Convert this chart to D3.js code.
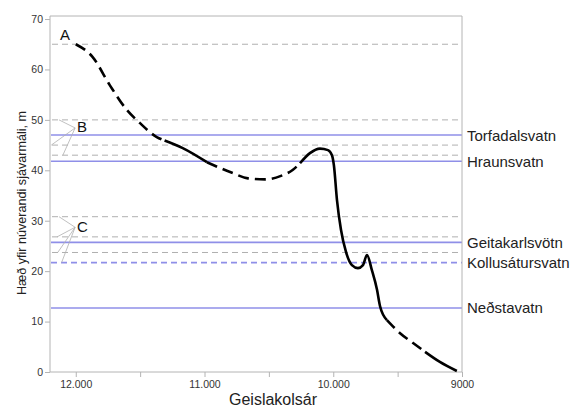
<!DOCTYPE html>
<meta charset="UTF-8">
<svg width="581" height="408"></svg>
<style>
body { margin: 0; }
svg { font-family: "Liberation Sans", Arial, sans-serif; }
.frame { stroke: #b4b4b4; stroke-width: 1px; fill: none; }
.refline { stroke: #b0b0b0; stroke-width: 1px; stroke-dasharray: 6,4; }
.lake { stroke: #8f8fe8; stroke-width: 1.6px; }
.lake.dashed { stroke-dasharray: 6,4; }
.pointer { stroke: #b0b0b0; stroke-width: 0.8px; fill: none; }
.curve { stroke: #000; stroke-width: 2.6px; fill: none; stroke-linecap: butt; }
.curve.dashed { stroke-dasharray: 11,6; }
.tick text { fill: #333; font-size: 10.5px; }
</style>
<script src="https://d3js.org/d3.v7.min.js"></script>
<script>
// y ticks and x ticks
var yTicks = [0, 10, 20, 30, 40, 50, 60, 70]
var xMajor = [12000, 11000, 10000, 9000]
var xMajorLabels = ["12.000", "11.000", "10.000", "9000"]
var xMinor = [11500, 10500, 9500]

// grey dashed shoreline levels (m)
var shoreLevels = [65, 50, 45, 43, 30.8, 26.8, 23.7]

// lakes: name, threshold level, dashed?
var lakeNames = ["Torfadalsvatn", "Hraunsvatn", "Geitakarlsvötn", "Kollusátursvatn", "Neðstavatn"]
var lakeLevels = [47, 41.8, 25.7, 21.7, 12.7]
var lakeDashed = [false, false, false, true, false]

// letters and the shoreline levels they point at
var markerLabels = ["A", "B", "C"]
var markerPos = [[12045, 65.8], [11990, 47.5], [11990, 27.8]]
var markerApex = [null, [12005, 48.4], [12005, 28.7]]
var markerTargets = [
    [],
    [[12130, 50], [12190, 45], [12100, 43]],
    [[12130, 30.8], [12145, 26.8], [12140, 23.7], [12110, 21.7]]
]

// relative sea level curve, split into dashed (uncertain) and solid parts
var curveSegments = [
    {dashed: true,  pts: [[12000, 65], [11870, 62.5], [11736, 56.9], [11604, 52], [11503, 49.4], [11371, 46.6], [11310, 45.9]]},
    {dashed: false, pts: [[11310, 45.9], [11169, 44.4], [10981, 41.6]]},
    {dashed: true,  pts: [[10981, 41.6], [10786, 39.5], [10662, 38.4], [10530, 38.2], [10406, 38.9], [10313, 40.1], [10258, 41.4]]},
    {dashed: false, pts: [[10258, 41.4], [10181, 43.4], [10103, 44.3], [10041, 44.0], [10010, 43.0], [9995, 41.0], [9971, 34.1],
                          [9940, 28.2], [9901, 23.8], [9855, 21.2], [9808, 20.6], [9769, 21.2], [9738, 23.2], [9700, 20.2],
                          [9660, 16.3], [9637, 13.1], [9583, 10.3]]},
    {dashed: true,  pts: [[9583, 10.3], [9481, 7.7], [9380, 5.75], [9287, 4.0]]},
    {dashed: false, pts: [[9287, 4.0], [9172, 2.0], [9040, 0.2]]}
]

var svg = d3.select("svg")
var mLeft = 50, mRight = 462, mTop = 16, mBottom = 372

var x = d3.scaleLinear().domain([12200, 9000]).range([mLeft, mRight])
var y = d3.scaleLinear().domain([0, 70.6]).range([mBottom, mTop])

// shoreline reference lines
svg.append("g").selectAll("line")
    .data(shoreLevels).enter().append("line")
    .attr("class", "refline")
    .attr("x1", mLeft + 2).attr("x2", mRight)
    .attr("y1", d => y(d)).attr("y2", d => y(d))

// lakes
var lakes = lakeNames.map((n, i) => ({name: n, level: lakeLevels[i], dashed: lakeDashed[i]}))
svg.append("g").selectAll("line")
    .data(lakes).enter().append("line")
    .attr("class", d => d.dashed ? "lake dashed" : "lake")
    .attr("x1", mLeft + 1).attr("x2", mRight)
    .attr("y1", d => y(d.level)).attr("y2", d => y(d.level))

svg.append("g").selectAll("text")
    .data(lakes).enter().append("text")
    .attr("x", mRight + 5)
    .attr("y", d => y(d.level) + 5.5)
    .text(d => d.name)
    .style("font-size", "15px")
    .style("fill", "#222")

// frame (top and right)
svg.append("path").attr("class", "frame")
    .attr("d", `M${mLeft},${mTop}H${mRight}V${mBottom}`)

// axes
var yAxis = svg.append("g").attr("transform", `translate(${mLeft},0)`)
    .call(d3.axisLeft(y).tickValues(yTicks).tickSize(5).tickPadding(2).tickFormat(d3.format("d")))
var xAxis = svg.append("g").attr("transform", `translate(0,${mBottom})`)
    .call(d3.axisBottom(x).tickValues(xMajor).tickSize(5).tickPadding(4).tickFormat((d, i) => xMajorLabels[i]))
svg.append("g").attr("transform", `translate(0,${mBottom})`)
    .call(d3.axisBottom(x).tickValues(xMinor).tickSize(5).tickFormat(""))
    .select(".domain").remove()
svg.selectAll(".domain, .tick line").attr("stroke", "#b4b4b4")
xAxis.select(".domain").attr("d", `M${mLeft},0H${mRight}`)
yAxis.select(".domain").attr("d", `M0,${mTop}V${mBottom}`)

// axis titles
svg.append("text")
    .attr("x", 273).attr("y", 405)
    .attr("text-anchor", "middle")
    .style("font-size", "16px").style("fill", "#222")
    .text("Geislakolsár")
svg.append("text")
    .attr("transform", "translate(26,203) rotate(-90)")
    .attr("text-anchor", "middle")
    .style("font-size", "12.6px").style("fill", "#222")
    .text("Hæð yfir núverandi sjávarmáli, m")

// pointer lines for B and C
markerLabels.forEach((lab, i) => {
    if (markerApex[i]) {
        markerTargets[i].forEach(t => {
            svg.append("line").attr("class", "pointer")
                .attr("x1", x(markerApex[i][0])).attr("y1", y(markerApex[i][1]))
                .attr("x2", x(t[0])).attr("y2", y(t[1]))
        })
    }
    svg.append("text")
        .attr("x", x(markerPos[i][0])).attr("y", y(markerPos[i][1]))
        .attr("text-anchor", i == 0 ? "end" : "start")
        .style("font-size", "15px").style("fill", "#111")
        .text(lab)
})

// the curve
var line = d3.line().x(d => x(d[0])).y(d => y(d[1])).curve(d3.curveMonotoneX)
svg.append("g").selectAll("path")
    .data(curveSegments).enter().append("path")
    .attr("class", d => d.dashed ? "curve dashed" : "curve")
    .attr("d", d => line(d.pts))
</script>
